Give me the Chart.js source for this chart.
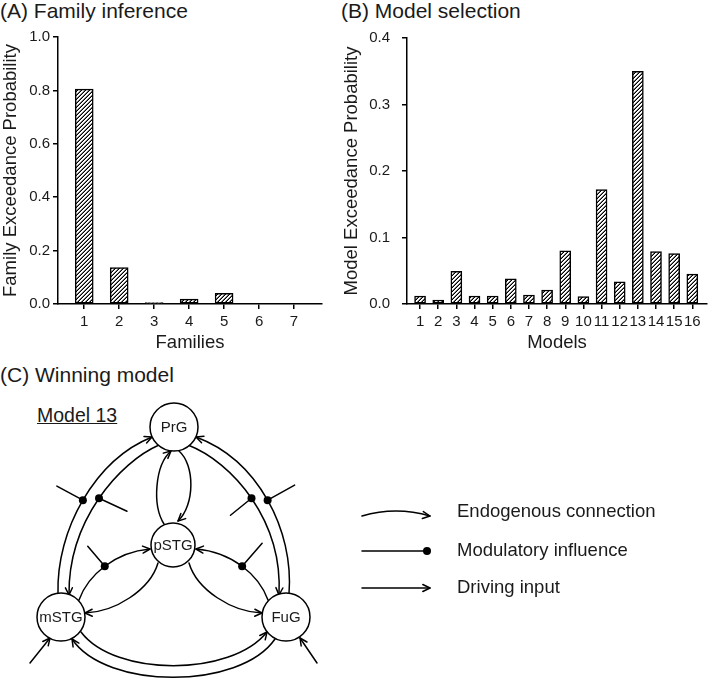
<!DOCTYPE html>
<html>
<head>
<meta charset="utf-8">
<script src="https://cdn.jsdelivr.net/npm/chart.js@4"></script>
<style>
  body { margin: 0; background: #fff; }
  #page { position: relative; width: 708px; height: 678px; overflow: hidden;
          font-family: 'Liberation Sans', Arial, sans-serif; color: #1a1a1a; }
  .box { position: absolute; }
  .head { position: absolute; font-size: 21px; line-height: 24px; white-space: nowrap; }
</style>
</head>
<body>
<div id="page">
  <div class="head" style="left:0;top:-1px">(A) Family inference</div>
  <div class="head" style="left:341px;top:-1px">(B) Model selection</div>
  <div class="head" style="left:0;top:363px">(C) Winning model</div>
  <div class="head" style="left:37px;top:403px;font-size:19.5px;text-decoration:underline">Model 13</div>
  <div class="box" style="left:0;top:0;width:340px;height:358px"><canvas id="famChart"></canvas></div>
  <div class="box" style="left:340px;top:0;width:368px;height:358px"><canvas id="modChart"></canvas></div>
  <div class="box" style="left:0;top:380px;width:708px;height:298px"><canvas id="netChart"></canvas></div>
</div>
<script>
"use strict";

const FONT = "'Liberation Sans', Arial, sans-serif";
const INK = "#1a1a1a";
Chart.defaults.font.family = FONT;
Chart.defaults.color = INK;

// ── Data ──────────────────────────────────────────────────────────────────
const families = [1, 2, 3, 4, 5, 6, 7];
const familyProb = [0.805, 0.136, 0.005, 0.018, 0.040, 0, 0];

const models = [1, 2, 3, 4, 5, 6, 7, 8, 9, 10, 11, 12, 13, 14, 15, 16];
const modelProb = [0.012, 0.006, 0.049, 0.012, 0.012, 0.038, 0.0135, 0.021,
                   0.080, 0.011, 0.172, 0.0335, 0.350, 0.079, 0.076, 0.045];

// network (diagram units)
const nodeNames = ["PrG", "pSTG", "mSTG", "FuG"];
const nodeX = [174, 173, 61, 286];
const nodeY = [427, 545, 617, 617];
const nodeR = [24, 22, 24, 24];

// endogenous connections: cubic Bézier points, arrowhead at the last one
const endoPaths = [
  [[58, 594], [56, 530], [95, 460], [152, 437]],     // mSTG -> PrG
  [[159, 445], [120, 462], [68, 520], [69, 595]],    // PrG -> mSTG
  [[289, 594], [294, 530], [258, 460], [196, 437]],  // FuG -> PrG
  [[188, 445], [232, 462], [283, 520], [279, 595]],  // PrG -> FuG
  [[164, 524], [152, 505], [155, 465], [171, 451]],  // pSTG -> PrG
  [[179, 451], [195, 465], [195, 505], [178, 521]],  // PrG -> pSTG
  [[79, 600], [88, 575], [115, 552], [150, 549]],    // mSTG -> pSTG
  [[158, 563], [150, 590], [115, 612], [85, 613]],   // pSTG -> mSTG
  [[268, 600], [259, 575], [232, 552], [196, 549]],  // FuG -> pSTG
  [[189, 563], [197, 590], [232, 612], [262, 613]],  // pSTG -> FuG
  [[275, 639], [240, 690], [106, 690], [72, 639]],   // FuG -> mSTG
  [[81, 632], [115, 677], [231, 677], [267, 632]],   // mSTG -> FuG
];
// modulatory influences: [path index, t on path, line dx, line dy]
const modulators = [[0, 0.5, -26, -14], [1, 0.5, 28, 13], [2, 0.5, 27, -15],
                    [3, 0.5, -21, 17], [6, 0.5, -17, -20], [8, 0.5, 20, -23]];
// driving inputs
const drivers = [[[30, 663], [50, 638]], [[317, 663], [300, 638]]];

const legendLabels = ["Endogenous connection", "Modulatory influence", "Driving input"];
const legendY = [512, 551, 588];

// ── Bar charts ────────────────────────────────────────────────────────────
// crisp "////" hatching, built pixel by pixel
function hatch() {
  const n = 4;
  const c = document.createElement("canvas");
  c.width = c.height = n;
  const g = c.getContext("2d");
  g.fillStyle = "#fff"; g.fillRect(0, 0, n, n);
  for (let x = 0; x < n; x++) {
    for (let y = 0; y < n; y++) {
      const k = (x + y) % n;
      if (k === 3) { g.fillStyle = "#000"; g.fillRect(x, y, 1, 1); }
      if (k === 2) { g.fillStyle = "#777"; g.fillRect(x, y, 1, 1); }
    }
  }
  return g.createPattern(c, "repeat");
}

const axisGrid = { offset: false, drawOnChartArea: false, drawTicks: true, tickLength: 5, color: "#000", lineWidth: 1.5 };
const axisBorder = { color: "#000", width: 1.5 };

function barChart(id, cats, vals, o) {
  return new Chart(document.getElementById(id), {
    type: "bar",
    data: { datasets: [{
      data: cats.map((c, i) => ({ x: c, y: vals[i] })),
      backgroundColor: hatch(), borderColor: "#000", borderWidth: 1.5,
      borderSkipped: false, barThickness: o.barW,
    }] },
    options: {
      responsive: true, maintainAspectRatio: false, animation: false, events: [],
      layout: { padding: { top: o.top, right: o.right, left: 0, bottom: 0 } },
      plugins: { legend: { display: false }, tooltip: { enabled: false } },
      scales: {
        x: {
          type: "linear", min: o.xmin, max: o.xmax, offset: false,
          afterBuildTicks: (s) => { s.ticks = cats.map((v) => ({ value: v })); },
          afterFit: (s) => { s.height = 54; },
          grid: axisGrid, border: axisBorder,
          ticks: { autoSkip: false, maxRotation: 0, minRotation: 0, padding: 4, color: INK, font: { size: 15 } },
          title: { display: true, text: o.xTitle, color: INK, font: { size: 18.5 }, padding: { top: 4, bottom: 4 } },
        },
        y: {
          min: 0, max: o.ymax,
          afterFit: (s) => { s.width = o.yW; },
          grid: axisGrid, border: axisBorder,
          ticks: { stepSize: o.step, padding: o.yPad, color: INK, font: { size: 15 }, callback: (v) => v.toFixed(1) },
          title: { display: true, text: o.yTitle, color: INK, font: { size: 18.5 }, padding: { top: o.yTitlePad, bottom: 0 } },
        },
      },
    },
  });
}

barChart("famChart", families, familyProb, {
  barW: 18, top: 37, right: 18, xmin: 0.25, xmax: 7.8, ymax: 1, step: 0.2,
  yW: 58, yPad: 3, yTitlePad: 0, xTitle: "Families", yTitle: "Family Exceedance Probability",
});
barChart("modChart", models, modelProb, {
  barW: 11, top: 38, right: 1, xmin: 0.28, xmax: 16.81, ymax: 0.4, step: 0.1,
  yW: 67, yPad: 12, yTitlePad: 1, xTitle: "Models", yTitle: "Model Exceedance Probability",
});

// ── Network diagram ───────────────────────────────────────────────────────
function bez(p, t) {
  const u = 1 - t, a = u * u * u, b = 3 * u * u * t, c = 3 * u * t * t, d = t * t * t;
  return [a * p[0][0] + b * p[1][0] + c * p[2][0] + d * p[3][0],
          a * p[0][1] + b * p[1][1] + c * p[2][1] + d * p[3][1]];
}

function arrowHead(ctx, x, y, ang) {
  const L = 8, a = 0.45;
  ctx.beginPath();
  ctx.moveTo(x - L * Math.cos(ang - a), y - L * Math.sin(ang - a));
  ctx.lineTo(x, y);
  ctx.lineTo(x - L * Math.cos(ang + a), y - L * Math.sin(ang + a));
  ctx.stroke();
}

const netPlugin = {
  id: "net",
  beforeDatasetsDraw(chart) {
    const { ctx, scales: { x, y } } = chart;
    const px = (p) => [x.getPixelForValue(p[0]), y.getPixelForValue(p[1])];
    ctx.save();
    ctx.strokeStyle = "#000"; ctx.fillStyle = "#000";
    ctx.lineWidth = 1.5; ctx.lineCap = "round"; ctx.lineJoin = "round";

    endoPaths.forEach((path) => {
      const q = path.map(px);
      ctx.beginPath();
      ctx.moveTo(q[0][0], q[0][1]);
      ctx.bezierCurveTo(q[1][0], q[1][1], q[2][0], q[2][1], q[3][0], q[3][1]);
      ctx.stroke();
      arrowHead(ctx, q[3][0], q[3][1], Math.atan2(q[3][1] - q[2][1], q[3][0] - q[2][0]));
    });

    modulators.forEach(([i, t, dx, dy]) => {
      const b = bez(endoPaths[i], t);
      const d = px(b), e = px([b[0] + dx, b[1] + dy]);
      ctx.beginPath(); ctx.moveTo(e[0], e[1]); ctx.lineTo(d[0], d[1]); ctx.stroke();
      ctx.beginPath(); ctx.arc(d[0], d[1], 4, 0, Math.PI * 2); ctx.fill();
    });

    drivers.forEach(([a, b]) => {
      const p = px(a), q = px(b);
      ctx.beginPath(); ctx.moveTo(p[0], p[1]); ctx.lineTo(q[0], q[1]); ctx.stroke();
      arrowHead(ctx, q[0], q[1], Math.atan2(q[1] - p[1], q[0] - p[0]));
    });

    // legend symbols
    const l0 = px([362, legendY[0] + 4]), lc = px([396, legendY[0] - 6]), l1 = px([430, legendY[0] + 4]);
    ctx.beginPath(); ctx.moveTo(l0[0], l0[1]); ctx.quadraticCurveTo(lc[0], lc[1], l1[0], l1[1]); ctx.stroke();
    arrowHead(ctx, l1[0], l1[1], Math.atan2(l1[1] - lc[1], l1[0] - lc[0]) * 0.5);
    const m0 = px([362, legendY[1]]), m1 = px([427, legendY[1]]);
    ctx.beginPath(); ctx.moveTo(m0[0], m0[1]); ctx.lineTo(m1[0], m1[1]); ctx.stroke();
    ctx.beginPath(); ctx.arc(m1[0], m1[1], 4, 0, Math.PI * 2); ctx.fill();
    const d0 = px([362, legendY[2]]), d1 = px([430, legendY[2]]);
    ctx.beginPath(); ctx.moveTo(d0[0], d0[1]); ctx.lineTo(d1[0], d1[1]); ctx.stroke();
    arrowHead(ctx, d1[0], d1[1], 0);

    ctx.fillStyle = INK;
    ctx.font = "18.5px " + FONT;
    ctx.textAlign = "left"; ctx.textBaseline = "middle";
    legendLabels.forEach((t, i) => {
      const p = px([457, legendY[i]]);
      ctx.fillText(t, p[0], p[1]);
    });
    ctx.restore();
  },
  afterDatasetsDraw(chart) {
    const { ctx } = chart;
    const meta = chart.getDatasetMeta(0);
    ctx.save();
    ctx.fillStyle = INK;
    ctx.font = "15px " + FONT;
    ctx.textAlign = "center"; ctx.textBaseline = "middle";
    meta.data.forEach((pt, i) => ctx.fillText(nodeNames[i], pt.x, pt.y + 1));
    ctx.restore();
  },
};

new Chart(document.getElementById("netChart"), {
  type: "scatter",
  data: { datasets: [{
    data: nodeNames.map((n, i) => ({ x: nodeX[i], y: nodeY[i] })),
    pointRadius: nodeR, pointBackgroundColor: "#fff", pointBorderColor: "#000",
    pointBorderWidth: 1.5, pointStyle: "circle", clip: false,
  }] },
  options: {
    responsive: true, maintainAspectRatio: false, animation: false, events: [],
    layout: { padding: 0, autoPadding: false },
    plugins: { legend: { display: false }, tooltip: { enabled: false } },
    scales: {
      x: { type: "linear", min: 0, max: 708, display: false },
      y: { type: "linear", min: 380, max: 678, reverse: true, display: false },
    },
  },
  plugins: [netPlugin],
});
</script>
</body>
</html>
